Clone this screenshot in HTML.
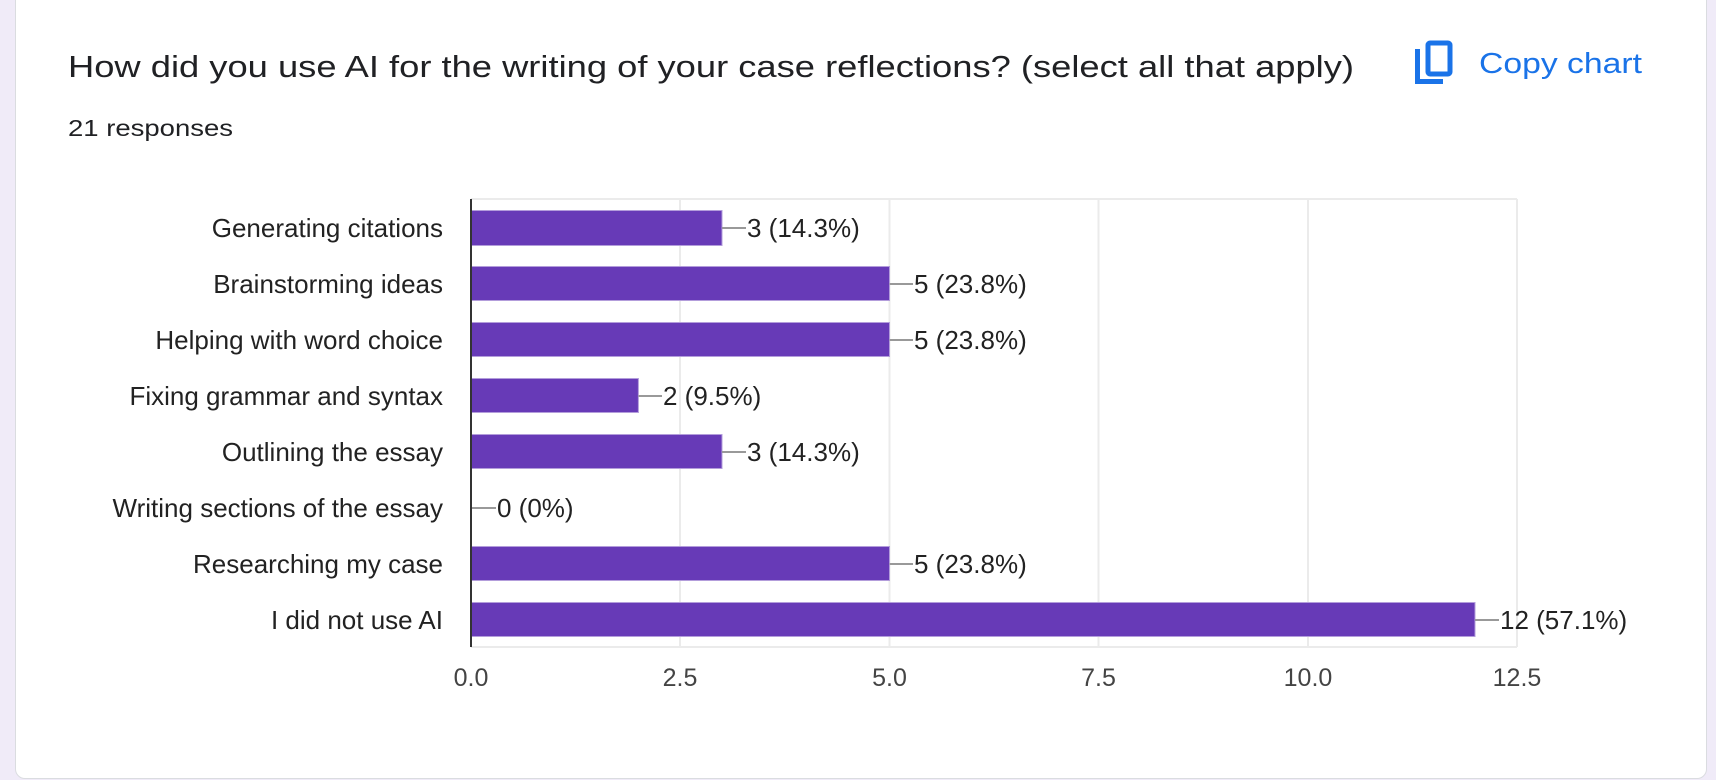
<!DOCTYPE html>
<html><head><style>
html,body{margin:0;padding:0;background:#f0ebf8;}
body{width:1716px;height:780px;overflow:hidden;position:relative;}
.card{position:absolute;left:15px;top:-10px;width:1690px;height:787px;background:#fff;border:1px solid #dadce0;border-radius:10px;}
svg{position:absolute;left:0;top:0;}
text{font-family:"Liberation Sans",Arial,sans-serif;}
</style></head><body>
<div class="card"></div>
<svg width="1716" height="780" viewBox="0 0 1716 780">
<text x="68" y="77" font-size="31" fill="#202124" textLength="1286" lengthAdjust="spacingAndGlyphs">How did you use AI for the writing of your case reflections? (select all that apply)</text>
<text x="68" y="136" font-size="23" fill="#202124" textLength="165" lengthAdjust="spacingAndGlyphs">21 responses</text>
<g fill="none" stroke="#1a73e8" stroke-width="5">
<rect x="1428" y="43" width="22" height="31" rx="2"/>
<path d="M1417.5 49 V81.5 H1443"/>
</g>
<text x="1479" y="73" font-size="29" fill="#1a73e8" textLength="163" lengthAdjust="spacingAndGlyphs">Copy chart</text>
<g stroke="#ebebeb" stroke-width="2">
<line x1="680" y1="199" x2="680" y2="647"/><line x1="889.5" y1="199" x2="889.5" y2="647"/>
<line x1="1098.5" y1="199" x2="1098.5" y2="647"/><line x1="1308" y1="199" x2="1308" y2="647"/>
<line x1="1517" y1="199" x2="1517" y2="647"/>
<line x1="471" y1="199" x2="1517" y2="199"/><line x1="471" y1="647" x2="1517" y2="647"/>
</g>
<g fill="#673ab7" stroke="#b39ddb" stroke-width="1">
<rect x="471" y="210.5" width="251" height="35"/>
<rect x="471" y="266.5" width="418.5" height="34"/>
<rect x="471" y="322.5" width="418.5" height="34"/>
<rect x="471" y="378.5" width="167.4" height="34"/>
<rect x="471" y="434.5" width="251" height="34"/>
<rect x="471" y="546.5" width="418.5" height="34"/>
<rect x="471" y="602.5" width="1004" height="34"/>
</g>
<line x1="471" y1="199" x2="471" y2="647" stroke="#333" stroke-width="2"/>
<g stroke="#999" stroke-width="2">
<line x1="722" y1="228" x2="746" y2="228"/><line x1="889.5" y1="284" x2="913" y2="284"/>
<line x1="889.5" y1="340" x2="913" y2="340"/><line x1="638.4" y1="396" x2="662" y2="396"/>
<line x1="722" y1="452" x2="746" y2="452"/><line x1="472" y1="508" x2="496" y2="508"/>
<line x1="889.5" y1="564" x2="913" y2="564"/><line x1="1475" y1="620" x2="1499" y2="620"/>
</g>
<g font-size="26" fill="#222" text-anchor="end">
<text x="443" y="237">Generating citations</text>
<text x="443" y="293">Brainstorming ideas</text>
<text x="443" y="349">Helping with word choice</text>
<text x="443" y="405">Fixing grammar and syntax</text>
<text x="443" y="461">Outlining the essay</text>
<text x="443" y="517">Writing sections of the essay</text>
<text x="443" y="573">Researching my case</text>
<text x="443" y="629">I did not use AI</text>
</g>
<g font-size="26" fill="#222">
<text x="747" y="237">3 (14.3%)</text>
<text x="914" y="293">5 (23.8%)</text>
<text x="914" y="349">5 (23.8%)</text>
<text x="663" y="405">2 (9.5%)</text>
<text x="747" y="461">3 (14.3%)</text>
<text x="497" y="517">0 (0%)</text>
<text x="914" y="573">5 (23.8%)</text>
<text x="1500" y="629">12 (57.1%)</text>
</g>
<g font-size="25" fill="#444" text-anchor="middle">
<text x="471" y="686">0.0</text><text x="680" y="686">2.5</text><text x="889.5" y="686">5.0</text>
<text x="1098.5" y="686">7.5</text><text x="1308" y="686">10.0</text><text x="1517" y="686">12.5</text>
</g>
</svg>
</body></html>
